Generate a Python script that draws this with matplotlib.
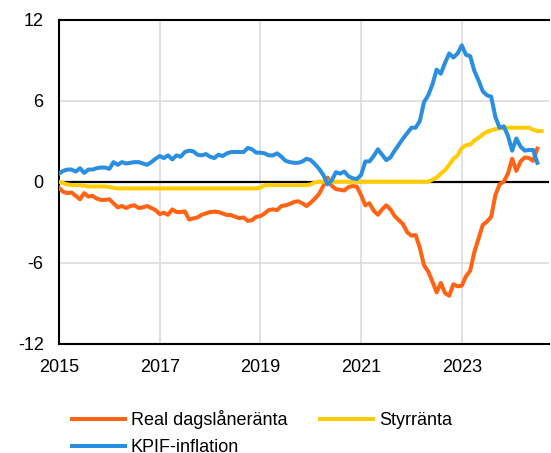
import numpy as np
import matplotlib.pyplot as plt

plt.rcParams["font.family"] = ["Liberation Sans", "DejaVu Sans"]

# monthly observations, first point January 2015
start_year = 2015

real_rate = [
    -0.45, -0.75, -0.85, -0.8, -1.05, -1.3, -0.85, -1.1, -1.05, -1.25, -1.35, -1.35,
    -1.3, -1.6, -1.9, -1.8, -1.95, -1.8, -1.75, -1.95, -1.9, -1.8, -1.95, -2.1,
    -2.4, -2.3, -2.45, -2.05, -2.25, -2.25, -2.2, -2.8, -2.72, -2.65, -2.45, -2.35,
    -2.25, -2.22, -2.25, -2.35, -2.47, -2.47, -2.6, -2.7, -2.65, -2.9, -2.85, -2.6,
    -2.55, -2.35, -2.1, -2.05, -2.1, -1.8, -1.75, -1.65, -1.5, -1.45, -1.6, -1.8,
    -1.55, -1.25, -0.9, -0.3, 0.3, -0.3, -0.55, -0.6, -0.65, -0.4, -0.32, -0.37,
    -1.0, -1.75, -1.6, -2.15, -2.45, -2.05, -1.75, -2.05, -2.55, -2.85, -3.15, -3.75,
    -4.0, -3.95, -4.9, -6.2, -6.65, -7.4, -8.2, -7.5, -8.25, -8.45, -7.6, -7.75,
    -7.7, -7.0, -6.6, -5.2, -4.2, -3.2, -2.95, -2.6, -1.0, -0.2, 0.0, 0.6,
    1.7, 0.8, 1.5, 1.8, 1.75, 1.55, 2.45,
]

policy_rate = [
    0.0, -0.1, -0.2, -0.25, -0.25, -0.25, -0.3, -0.35, -0.35, -0.35, -0.35, -0.35,
    -0.4, -0.45, -0.5, -0.5, -0.5, -0.5, -0.5, -0.5, -0.5, -0.5, -0.5, -0.5,
    -0.5, -0.5, -0.5, -0.5, -0.5, -0.5, -0.5, -0.5, -0.5, -0.5, -0.5, -0.5,
    -0.5, -0.5, -0.5, -0.5, -0.5, -0.5, -0.5, -0.5, -0.5, -0.5, -0.5, -0.5,
    -0.45, -0.25, -0.25, -0.25, -0.25, -0.25, -0.25, -0.25, -0.25, -0.25, -0.25, -0.25,
    -0.2, -0.05, 0.0, 0.0, 0.0, 0.0, 0.0, 0.0, 0.0, 0.0, 0.0, 0.0,
    0.0, 0.0, 0.0, 0.0, 0.0, 0.0, 0.0, 0.0, 0.0, 0.0, 0.0, 0.0,
    0.0, 0.0, 0.0, 0.0, 0.0, 0.15, 0.3, 0.6, 0.85, 1.25, 1.7, 1.95,
    2.5, 2.7, 2.75, 3.05, 3.25, 3.5, 3.7, 3.8, 3.9, 3.95, 4.0, 4.0,
    4.0, 4.0, 4.0, 4.0, 4.0, 3.85, 3.75, 3.75,
]

kpif = [
    0.6, 0.8, 0.9, 0.9, 0.75, 1.0, 0.65, 0.9, 0.9, 1.0, 1.05, 1.05,
    0.95, 1.45, 1.25, 1.45, 1.35, 1.4, 1.45, 1.45, 1.35, 1.25, 1.45, 1.7,
    1.9, 1.75, 1.95, 1.65, 1.95, 1.85, 2.2, 2.3, 2.25, 2.0, 1.95, 2.05,
    1.85, 1.75, 2.0, 1.9, 2.1, 2.2, 2.2, 2.2, 2.2, 2.5, 2.4, 2.15,
    2.15, 2.1, 1.95, 1.95, 2.1, 1.85, 1.55, 1.45, 1.4, 1.4, 1.5, 1.7,
    1.6, 1.3, 0.95, 0.5, -0.2, 0.1, 0.7, 0.6, 0.75, 0.4, 0.25, 0.2,
    0.5, 1.5, 1.5, 1.9, 2.4, 2.0, 1.6, 1.8, 2.3, 2.75, 3.2, 3.6,
    4.0, 4.0, 4.5, 5.9, 6.4, 7.2, 8.3, 8.0, 8.8, 9.5, 9.2, 9.5,
    10.1, 9.4, 9.3, 8.2, 7.5, 6.7, 6.4, 6.3, 4.8, 4.0, 4.1, 3.4,
    2.3, 3.2, 2.6, 2.3, 2.35, 2.35, 1.4,
]

labels = ["Real dagslåneränta", "Styrränta", "KPIF-inflation"]
colors = ["#FF6414", "#FFCC00", "#2B8FE0"]
yticks = [-12, -6, 0, 6, 12]
xticks = [2015, 2017, 2019, 2021, 2023]


def month_axis(values):
    return start_year + np.arange(len(values)) / 12


fig = plt.figure(figsize=(5.51, 4.53), dpi=100)
ax = fig.add_axes([59 / 551, 1 - 343.7 / 453, 490 / 551, 324 / 453])

ax.axhline(0, color="black", lw=1.6, zorder=2)
lines = []
for series, label, color in zip([real_rate, policy_rate, kpif], labels, colors):
    (ln,) = ax.plot(month_axis(series), series, color=color, lw=2.9, label=label,
                    solid_joinstyle="round", zorder=3)
    lines.append(ln)

ax.set_xlim(2015, 2015 + 490 / 50.35)
ax.set_ylim(-12, 12)
ax.set_xticks(xticks)
ax.set_xticklabels([str(x) for x in xticks])
ax.set_yticks(yticks)
ax.set_yticklabels([str(y) for y in yticks])
ax.tick_params(length=0, labelsize=13, pad=11)
ax.grid(True, color="#d9d9d9", lw=1.1, zorder=0)
ax.set_axisbelow(True)
for side in ["left", "top", "bottom"]:
    ax.spines[side].set_linewidth(1.5)
ax.spines["right"].set_visible(False)

fig.legend(
    [lines[0], lines[2], lines[1]],
    [labels[0], labels[2], labels[1]],
    ncol=2,
    loc="upper left",
    bbox_to_anchor=(72 / 551, 1 - 410 / 453),
    frameon=False,
    fontsize=13,
    borderpad=0,
    borderaxespad=0,
    handlelength=2.93,
    handletextpad=0.32,
    columnspacing=1.83,
    labelspacing=0.55,
)

fig.savefig("out.png", dpi=100)
